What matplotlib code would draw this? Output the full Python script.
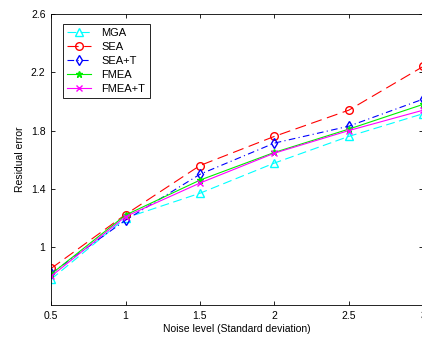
import numpy as np
import matplotlib
matplotlib.use("Agg")
import matplotlib.pyplot as plt

plt.rcParams['font.family'] = ['Liberation Sans', 'DejaVu Sans']

noise = [0.5, 1.0, 1.5, 2.0, 2.5, 3.0]
mga = [0.78, 1.20, 1.37, 1.577, 1.76, 1.916]
sea = [0.854, 1.224, 1.56, 1.76, 1.94, 2.24]
sea_t = [0.82, 1.185, 1.50, 1.714, 1.83, 2.016]
fmea = [0.815, 1.22, 1.46, 1.65, 1.81, 1.98]
fmea_t = [0.80, 1.21, 1.44, 1.645, 1.80, 1.94]

fig = plt.figure(figsize=(4.22, 3.4), dpi=100)
ax = fig.add_axes([0.121, 0.1015, 0.882, 0.8575])

ax.plot(noise, mga, color='cyan', ls=(0, (8, 4)), lw=0.8, marker='^', ms=5.5,
        mfc='none', mec='cyan', label='MGA')
ax.plot(noise, sea, color='red', ls=(0, (10, 5)), lw=0.8, marker='o', ms=5.5,
        mfc='none', mec='red', label='SEA')
ax.plot(noise, sea_t, color='blue', ls=(0, (6, 3, 1, 3)), lw=0.8, marker='d', ms=5.5,
        mfc='none', mec='blue', label='SEA+T')
ax.plot(noise, fmea, color='#00ee00', ls='-', lw=0.8, marker='*', ms=5,
        label='FMEA')
ax.plot(noise, fmea_t, color='magenta', ls='-', lw=0.8, marker='x', ms=4,
        label='FMEA+T')

ax.set_xlim(0.5, 3.0)
ax.set_ylim(0.6, 2.6)
ax.set_xticks([0.5, 1, 1.5, 2, 2.5, 3])
ax.set_xticklabels(['0.5', '1', '1.5', '2', '2.5', '3'])
ax.set_yticks([1.0, 1.4, 1.8, 2.2, 2.6])
ax.set_yticklabels(['1', '1.4', '1.8', '2.2', '2.6'])
ax.tick_params(direction='in', top=True, right=True, labelsize=7.5, length=3,
               width=0.6, pad=4)
for s in ax.spines.values():
    s.set_linewidth(0.6)

ax.set_xlabel('Noise level (Standard deviation)', fontsize=7.5, labelpad=2)
ax.set_ylabel('Residual error', fontsize=7.5, labelpad=4)

leg = ax.legend(loc='upper left', bbox_to_anchor=(0.016, 0.985), fontsize=8,
                fancybox=False, edgecolor='black', framealpha=1,
                handlelength=2.2, handletextpad=0.9, labelspacing=0.35,
                borderpad=0.4)
leg.get_frame().set_linewidth(0.6)

fig.savefig('out.png', dpi=100)
